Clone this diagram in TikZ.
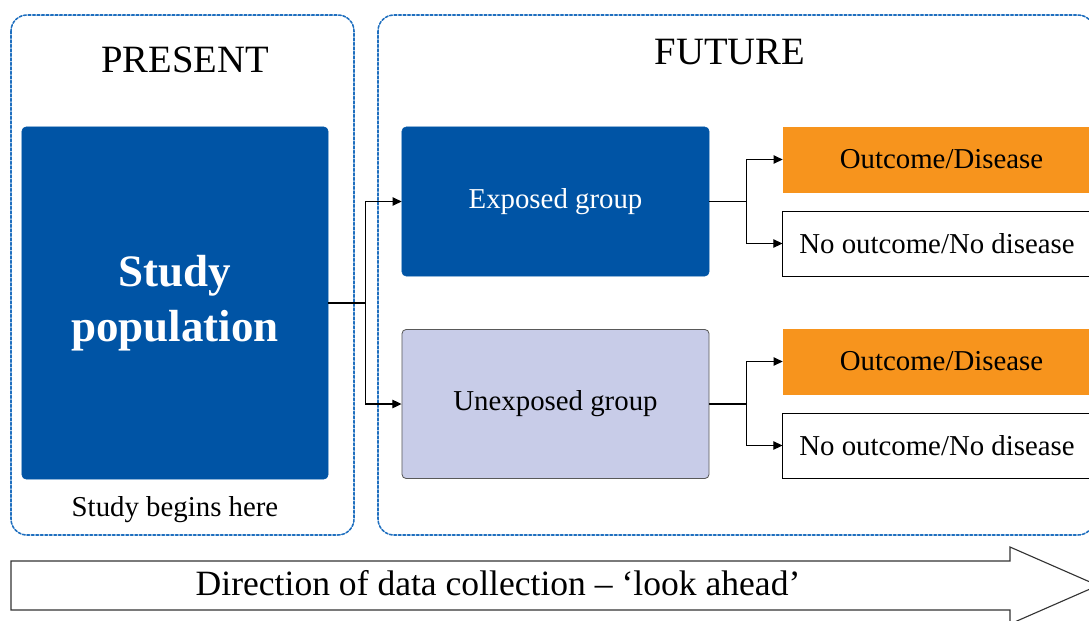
\documentclass[tikz,border=0pt]{standalone}
\usepackage{fontspec}
\setmainfont{Liberation Serif}
\usepackage{tikz}
\usetikzlibrary{positioning, calc}
\usetikzlibrary{arrows.meta}
\definecolor{popblue}{HTML}{0054A5}
\definecolor{lavender}{HTML}{C8CCE8}
\definecolor{outorange}{HTML}{F7941D}
\definecolor{frameblue}{HTML}{1F6FBF}

\tikzset{
  zone/.style={draw=frameblue, line width=1.1pt, dash pattern=on 2pt off 1.2pt,
    rounded corners=0.4cm},
  bluebox/.style={fill=popblue, draw=popblue, rounded corners=3pt, text=white,
    minimum width=7.675cm, minimum height=3.725cm, inner sep=0pt,
    font=\fontsize{20.5}{24}\selectfont},
  greybox/.style={bluebox, fill=lavender, draw=black!65, line width=0.6pt, text=black},
  outbox/.style={fill=outorange, draw=outorange, minimum width=7.925cm,
    minimum height=1.625cm, inner sep=0pt, font=\fontsize{20.5}{24}\selectfont},
  nobox/.style={outbox, fill=white, draw=black, line width=0.7pt, minimum width=7.7cm},
  flow/.style={line width=0.8pt, -{Triangle[length=6.5pt,width=6pt]}},
  stem/.style={line width=0.8pt},
}

\begin{document}
\begin{tikzpicture}[x=0.025cm,y=-0.025cm,line cap=round]
  \useasboundingbox (0,0) rectangle (1089,620);
  \clip (0,0) rectangle (1089,620);

  % --- Cornici: presente e futuro ---
  \draw[zone] (11,15) rectangle (354,535);
  \draw[zone] (378,15) rectangle (1094,535);
  \node[font=\fontsize{27.5}{30}\selectfont] (present) at (185,60) {PRESENT};
  \node[font=\fontsize{27.5}{30}\selectfont] (future) at (730,52) {FUTURE};

  % --- Popolazione di studio ---
  \node[bluebox, minimum width=7.65cm, minimum height=8.8cm, align=center,
    font=\bfseries\fontsize{32}{39}\selectfont] (pop) at (175,303) {Study\\population};
  \node[font=\fontsize{20.5}{24}\selectfont] (begin) at (175,510) {Study begins here};

  % --- Gruppi ---
  \node[bluebox] (exp) at (555.5,201.5) {Exposed group};
  \node[greybox] (unexp) at (555.5,404) {Unexposed group};

  % --- Esiti ---
  \node[outbox] (out1) at (941.5,159.5) {Outcome/Disease};
  \node[nobox] (no1) at (937,243.5) {No outcome/No disease};
  \node[outbox] (out2) at (941.5,361.5) {Outcome/Disease};
  \node[nobox] (no2) at (937,445.5) {No outcome/No disease};

  % --- Frecce ---
  \draw[stem] (pop.east) -- ++(37,0) coordinate (f0);
  \draw[flow] (f0) |- (exp.west);
  \draw[flow] (f0) |- (unexp.west);
  \draw[stem] (exp.east) -- ++(37,0) coordinate (f1);
  \draw[flow] (f1) |- (out1.west);
  \draw[flow] (f1) |- (no1.west);
  \draw[stem] (unexp.east) -- ++(37,0) coordinate (f2);
  \draw[flow] (f2) |- (out2.west);
  \draw[flow] (f2) |- (no2.west);

  % --- Direzione della raccolta dati ---
  \draw[line width=0.8pt, black!80, fill=white]
    (11,561) -- (1010,561) -- (1010,547) -- (1098,585.5) -- (1010,624)
    -- (1010,610) -- (11,610) -- cycle;
  \node[font=\fontsize{25.3}{28}\selectfont] (dir) at (498,583)
    {Direction of data collection – ‘look ahead’};
\end{tikzpicture}
\end{document}
